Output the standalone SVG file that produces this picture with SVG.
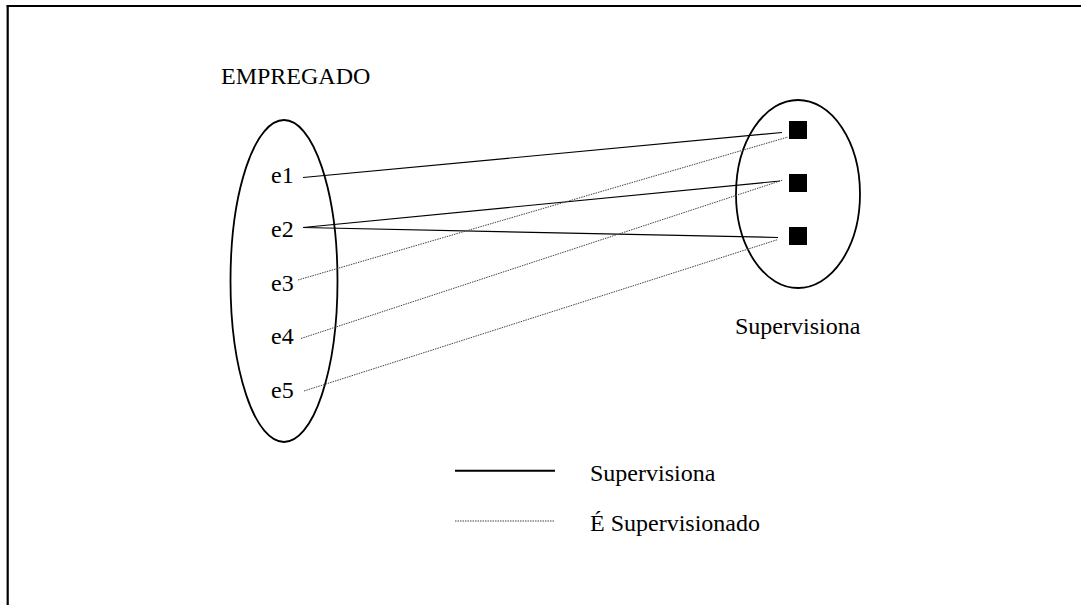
<svg xmlns="http://www.w3.org/2000/svg" width="1081" height="605" viewBox="0 0 1081 605">
<style>
text{font-family:"Liberation Serif","Times New Roman",serif;font-size:24px;fill:#000}
.set{fill:none;stroke:#000;stroke-width:1.8}
.sup{stroke:#000;stroke-width:1.2;fill:none}
.isup{stroke:#444;stroke-width:1;stroke-dasharray:1.5 1;fill:none}
.sq{fill:#000}
</style>
<rect width="1081" height="605" fill="#fff"/>
<g id="frame">
<line x1="6.7" y1="6" x2="1081" y2="6" stroke="#000" stroke-width="2.2"/>
<line x1="7.7" y1="5" x2="7.7" y2="605" stroke="#000" stroke-width="2.2"/>
</g>
<g id="empregado">
<text x="221" y="84">EMPREGADO</text>
<ellipse class="set" cx="284" cy="281" rx="53.5" ry="161"/>
<text x="271" y="183">e1</text>
<text x="271" y="237">e2</text>
<text x="271" y="291">e3</text>
<text x="271" y="344">e4</text>
<text x="271" y="398">e5</text>
</g>
<g id="supervisiona">
<ellipse class="set" cx="798" cy="194" rx="62" ry="94"/>
<rect class="sq" x="789" y="121" width="18" height="18"/>
<rect class="sq" x="789" y="174" width="18" height="18"/>
<rect class="sq" x="789" y="227" width="18" height="18"/>
<text x="735" y="334">Supervisiona</text>
</g>
<g id="connectors">
<line class="sup" x1="303" y1="177.5" x2="782" y2="132.5"/>
<line class="sup" x1="303" y1="227.5" x2="780" y2="181"/>
<line class="sup" x1="303" y1="227.5" x2="778" y2="237.5"/>
<line class="isup" x1="298" y1="280" x2="788" y2="137"/>
<line class="isup" x1="301" y1="338.5" x2="783" y2="180"/>
<line class="isup" x1="304" y1="391" x2="778" y2="239.5"/>
</g>
<g id="legend">
<line x1="455" y1="470.7" x2="555" y2="470.7" stroke="#000" stroke-width="2"/>
<text x="590" y="480.5">Supervisiona</text>
<line class="isup" x1="455" y1="521" x2="555" y2="521"/>
<text x="590" y="531">É Supervisionado</text>
</g>
</svg>
